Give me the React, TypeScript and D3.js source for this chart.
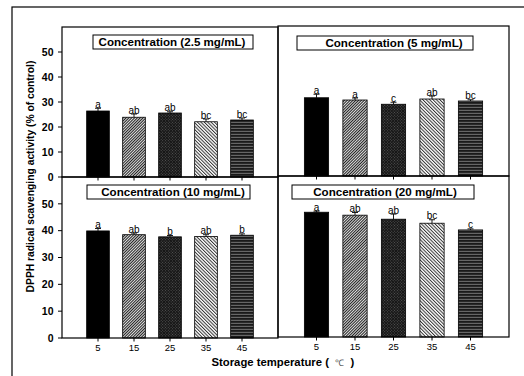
import React from 'react';
import * as d3 from 'd3';

// storage temperatures (x categories)
const temps = [5, 15, 25, 35, 45];
const concentrations = ['2.5', '5', '10', '20'];
const yTicks = [0, 10, 20, 30, 40, 50];

// DPPH activity (% of control) per concentration
const values25 = [26.4, 23.9, 25.6, 22.1, 22.8];
const errors25 = [1.1, 1.3, 0.5, 1.1, 0.8];
const letters25 = ['a', 'ab', 'ab', 'bc', 'bc'];

const values5 = [31.3, 30.4, 28.7, 30.8, 30.0];
const errors5 = [1.4, 0.8, 0.8, 1.2, 0.5];
const letters5 = ['a', 'a', 'c', 'ab', 'bc'];

const values10 = [39.9, 38.5, 37.7, 37.8, 38.3];
const errors10 = [0.9, 0.6, 0.5, 0.7, 0.5];
const letters10 = ['a', 'ab', 'b', 'ab', 'b'];

const values20 = [46.5, 45.4, 43.9, 42.4, 39.9];
const errors20 = [0.4, 1.0, 1.9, 1.3, 0.4];
const letters20 = ['a', 'ab', 'ab', 'bc', 'c'];

const seriesValues = [values25, values5, values10, values20];
const seriesErrors = [errors25, errors5, errors10, errors20];
const seriesLetters = [letters25, letters5, letters10, letters20];

const fills = ['#000', 'url(#p2)', 'url(#p3)', 'url(#p4)', 'url(#p5)'];

// panel layout in pixels
const panels = [
  { x0: 62, x1: 278, y0: 27, y1: 177, yAxis: true, xLabels: false, box: [93, 253, 35, 49], tx: 172 },
  { x0: 278, x1: 509, y0: 26, y1: 176, yAxis: false, xLabels: false, box: [297, 473, 36, 50], tx: 394 },
  { x0: 62, x1: 278, y0: 177, y1: 338, yAxis: true, xLabels: true, box: [87, 250, 185, 199], tx: 173 },
  { x0: 278, x1: 509, y0: 176, y1: 337, yAxis: false, xLabels: true, box: [292, 474, 185, 199], tx: 385 },
];

const font = "'Liberation Sans', Arial, sans-serif";

const Panel = ({ p, i }) => {
  const x = d3.scaleLinear().domain([-5, 55]).range([p.x0, p.x1]);
  const y = d3.scaleLinear().domain([0, 60]).range([p.y1, p.y0]);
  const half = (x(3.15) - x(0));
  const vals = seriesValues[i];
  const errs = seriesErrors[i];
  const lets = seriesLetters[i];
  const [bx0, bx1, by0, by1] = p.box;
  return (
    <g>
      {temps.map((t, j) => (
        <rect key={t} x={x(t) - half} y={y(vals[j])} width={half * 2} height={y(0) - y(vals[j])}
          fill={fills[j]} stroke="#000" strokeWidth={0.8} />
      ))}
      {temps.map((t, j) => {
        const top = y(vals[j] + errs[j]);
        return (
          <g key={t}>
            <line x1={x(t)} x2={x(t)} y1={y(vals[j])} y2={top} stroke="#000" strokeWidth={0.9} />
            <line x1={x(t) - 3} x2={x(t) + 3} y1={top} y2={top} stroke="#000" strokeWidth={0.9} />
            <text x={x(t)} y={top - 0.5} textAnchor="middle" fontSize={10} fontFamily={font} fill="#000">{lets[j]}</text>
          </g>
        );
      })}
      <rect x={p.x0} y={p.y0} width={p.x1 - p.x0} height={p.y1 - p.y0} fill="none" stroke="#000" strokeWidth={1.2} />
      {temps.map((t) => (
        <line key={t} x1={x(t)} x2={x(t)} y1={p.y1} y2={p.y1 + 3.5} stroke="#000" strokeWidth={1} />
      ))}
      {p.xLabels && temps.map((t) => (
        <text key={t} x={x(t)} y={p.y1 + 13} textAnchor="middle" fontSize={9.5} fontFamily={font} fill="#000">{t}</text>
      ))}
      {p.yAxis && yTicks.map((v) => (
        <g key={v}>
          <line x1={p.x0 - 4} x2={p.x0} y1={y(v)} y2={y(v)} stroke="#000" strokeWidth={1} />
          <text x={p.x0 - 8.5} y={y(v) + 3.8} textAnchor="end" fontSize={10.5} fontWeight="bold" fontFamily={font} fill="#000">{v}</text>
        </g>
      ))}
      <rect x={bx0} y={by0} width={bx1 - bx0} height={by1 - by0} fill="#fff" stroke="#000" strokeWidth={1} />
      <text x={p.tx} y={(by0 + by1) / 2 + 4} textAnchor="middle" fontSize={11.6} fontWeight="bold" fontFamily={font} fill="#000">
        {`Concentration (${concentrations[i]} mg/mL)`}
      </text>
    </g>
  );
};

export default function App() {
  return (
    <svg width={524} height={376} style={{ position: 'absolute', left: 0, top: 0, background: '#fff' }}>
      <defs>
        <pattern id="p2" patternUnits="userSpaceOnUse" width={2} height={2} patternTransform="rotate(45)">
          <rect width={2} height={2} fill="#ddd" />
          <rect width={1} height={2} fill="#222" />
        </pattern>
        <pattern id="p3" patternUnits="userSpaceOnUse" width={2} height={2} patternTransform="rotate(45)">
          <rect width={2} height={2} fill="#151515" />
          <rect width={0.8} height={0.8} fill="#777" />
        </pattern>
        <pattern id="p4" patternUnits="userSpaceOnUse" width={2.4} height={2.4} patternTransform="rotate(-45)">
          <rect width={2.4} height={2.4} fill="#fff" />
          <rect width={1} height={2.4} fill="#333" />
        </pattern>
        <pattern id="p5" patternUnits="userSpaceOnUse" width={4} height={3}>
          <rect width={4} height={3} fill="#666" />
          <rect width={4} height={1.8} fill="#1a1a1a" />
        </pattern>
      </defs>
      <rect x={12} y={7} width={530} height={390} fill="none" stroke="#000" strokeWidth={1.2} />
      {panels.map((p, i) => <Panel key={i} p={p} i={i} />)}
      <text transform="translate(34,176.5) rotate(-90)" textAnchor="middle" fontSize={10.3} fontWeight="bold" fontFamily={font} fill="#000">
        DPPH radical scavenging activity (% of control)
      </text>
      <text x={211.5} y={366} fontSize={11.3} fontWeight="bold" fontFamily={font} fill="#000" xmlSpace="preserve">
        {'Storage temperature (  '}<tspan fontWeight="normal" fontSize={9} fill="#555">℃</tspan>{'  )'}
      </text>
    </svg>
  );
}
